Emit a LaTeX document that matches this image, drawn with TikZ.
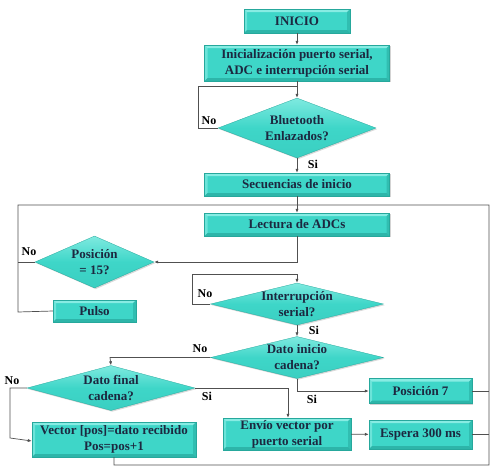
\documentclass[tikz,border=0pt]{standalone}
\usepackage{fontspec}
\setmainfont{Liberation Serif}
\usetikzlibrary{shapes.geometric,shadows,arrows.meta}
\definecolor{tq}{HTML}{3ED6C8}
\definecolor{tqlight}{HTML}{9AF2EA}
\definecolor{tqdark}{HTML}{26A89C}
\definecolor{txt}{HTML}{1C2840}
\definecolor{ln}{HTML}{505050}
\tikzset{
  boxst/.style={rectangle, fill=tq, draw=tqdark, line width=0.4pt, inner sep=1pt, align=center,
    font=\fontsize{13}{16}\selectfont\bfseries, text=txt,
    drop shadow={shadow xshift=1.2pt, shadow yshift=-1.2pt, opacity=0.35},
    path picture={
      \fill[tqlight,opacity=0.8] (path picture bounding box.north west) -- (path picture bounding box.north east)
        -- ([xshift=-3pt,yshift=-3pt]path picture bounding box.north east) -- ([xshift=3pt,yshift=-3pt]path picture bounding box.north west) -- cycle;
      \fill[tqlight,opacity=0.5] (path picture bounding box.north west) -- ([xshift=3pt,yshift=-3pt]path picture bounding box.north west)
        -- ([xshift=3pt,yshift=3pt]path picture bounding box.south west) -- (path picture bounding box.south west) -- cycle;
      \fill[tqdark,opacity=0.7] (path picture bounding box.south west) -- (path picture bounding box.south east)
        -- ([xshift=-3pt,yshift=3pt]path picture bounding box.south east) -- ([xshift=3pt,yshift=3pt]path picture bounding box.south west) -- cycle;
      \fill[tqdark,opacity=0.5] (path picture bounding box.north east) -- ([xshift=-3pt,yshift=-3pt]path picture bounding box.north east)
        -- ([xshift=-3pt,yshift=3pt]path picture bounding box.south east) -- (path picture bounding box.south east) -- cycle;
    }},
  diam/.style={diamond, aspect=3, inner sep=0pt, draw=tqdark, line width=0.3pt,
    top color=tqlight!70!tq, bottom color=tq!85!tqdark, middle color=tq,
    drop shadow={shadow xshift=1.2pt, shadow yshift=-1.2pt, opacity=0.3}},
  dtext/.style={inner sep=0pt, align=center, font=\fontsize{13}{16}\selectfont\bfseries, text=txt},
  conn/.style={draw=ln, line width=0.7pt},
  arr/.style={conn, -{Latex[length=4pt,width=3.2pt]}},
  lab/.style={font=\fontsize{12}{14}\selectfont\bfseries, text=black, inner sep=1pt}
}
\begin{document}
\begin{tikzpicture}[x=1pt,y=-1pt]
\useasboundingbox (0,0) rectangle (499,475);
% nodes
\node[boxst, minimum width=106pt, minimum height=24pt] (ini) at (297,21) {INICIO};
\node[boxst, minimum width=185pt, minimum height=36pt] (init) at (297,63) {Inicialización puerto serial,\\ADC e interrupción serial};
\node[diam, minimum width=158pt, minimum height=60pt] (bt) at (297,128) {};
\node[dtext] (bt-t) at (bt) {Bluetooth\\Enlazados?};
\node[boxst, minimum width=185pt, minimum height=23pt] (sec) at (297,184.5) {Secuencias de inicio};
\node[boxst, minimum width=185pt, minimum height=23pt] (lec) at (297,224.5) {Lectura de ADCs};
\node[diam, minimum width=119pt, minimum height=52pt] (p15) at (94.5,262) {};
\node[dtext] (p15-t) at (p15) {Posición\\= 15?};
\node[boxst, minimum width=83pt, minimum height=22pt] (pul) at (94.5,311) {Pulso};
\node[diam, minimum width=173pt, minimum height=42pt] (int) at (297,304) {};
\node[dtext] (int-t) at (int) {Interrupción\\serial?};
\node[diam, minimum width=173pt, minimum height=42pt] (dini) at (297,357.5) {};
\node[dtext] (dini-t) at (dini) {Dato inicio\\cadena?};
\node[diam, minimum width=168pt, minimum height=45pt] (dfin) at (111,388) {};
\node[dtext] (dfin-t) at (dfin) {Dato final\\cadena?};
\node[boxst, minimum width=103pt, minimum height=25pt] (p7) at (420.5,391) {Posición 7};
\node[boxst, minimum width=128pt, minimum height=32pt] (env) at (287,434) {Envío vector por\\puerto serial};
\node[boxst, minimum width=103pt, minimum height=29pt] (esp) at (420.5,434.5) {Espera 300 ms};
\node[boxst, minimum width=164pt, minimum height=35pt] (vec) at (114,439.5) {Vector [pos]=dato recibido\\Pos=pos+1};
% coordinates
\coordinate (j1) at (297,86);
\coordinate (c1) at (198,128);
\coordinate (c1b) at (198,86);
\coordinate (L1) at (18,205);
\coordinate (R1) at (489,205);
\coordinate (L2) at (18,312);
\coordinate (L3) at (18,262);
\coordinate (R2) at (489,465);
\coordinate (B1) at (114,465);
\coordinate (R3) at (489,391);
\coordinate (R4) at (489,434.5);
\coordinate (k1) at (297,262);
\coordinate (i1) at (192,304);
\coordinate (i2) at (192,274);
\coordinate (i3) at (297,274);
\coordinate (d1) at (110,357.5);
\coordinate (d2) at (297,391);
\coordinate (f1) at (10,388);
\coordinate (f2) at (10,438);
\coordinate (f3) at (288,388);
% connectors
\draw[arr] (ini) -- (init);
\draw[arr] (init) -- (bt.north);
\draw[conn] (bt.west) -- (c1) -- (c1b) -- (j1);
\draw[arr] (bt.south) -- (sec);
\draw[arr] (sec) -- (lec);
\draw[conn] (pul.west) -- (L2) -- (L1) -- (R1) -- (R2) -- (B1) -- (vec.south);
\draw[conn] (p15.west) -- (L3);
\draw[conn] (p7.east) -- (R3);
\draw[conn] (esp.east) -- (R4);
\draw[arr] (lec.south) -- (k1) -- (p15.east);
\draw[arr] (int.west) -- (i1) -- (i2) -- (i3) -- (int.north);
\draw[arr] (int.south) -- (dini.north);
\draw[arr] (dini.west) -- (d1) -- (dfin.north);
\draw[arr] (dini.south) -- (d2) -- (p7.west);
\draw[arr] (dfin.west) -- (f1) -- (f2) -- ([yshift=-1.5pt]vec.west);
\draw[arr] (dfin.east) -- (f3) -- (env.north -| f3);
\draw[arr] (env) -- (esp);
% labels
\node[lab] (l1) at (209,121) {No};
\node[lab] (l2) at (313,164) {Si};
\node[lab] (l3) at (29,252) {No};
\node[lab] (l4) at (205,294) {No};
\node[lab] (l5) at (314,330) {Si};
\node[lab] (l6) at (200,349) {No};
\node[lab] (l7) at (12,381) {No};
\node[lab] (l8) at (207,396) {Si};
\node[lab] (l9) at (312,399) {Si};
\end{tikzpicture}
\end{document}
